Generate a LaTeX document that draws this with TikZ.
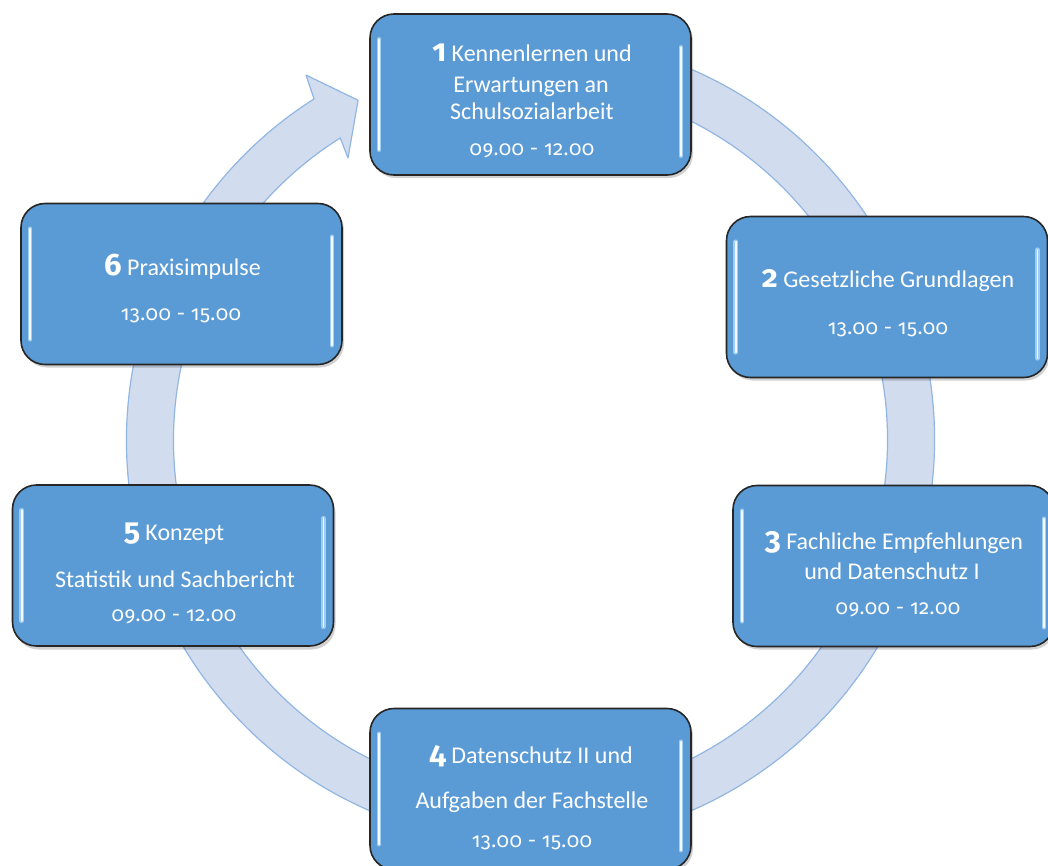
\documentclass[tikz,border=0pt]{standalone}
\usepackage{fontspec}
\setmainfont{Carlito}
\newfontfamily\timefont{Fira Sans}[Numbers=OldStyle,LetterSpace=2]
\newfontfamily\numfont{Fira Sans}[Numbers=OldStyle]
\definecolor{boxblue}{RGB}{91,155,213}
\definecolor{ringfill}{RGB}{209,220,238}
\definecolor{ringline}{RGB}{145,182,226}
\definecolor{glowblue}{RGB}{160,205,242}
\newcommand\bignum[1]{{\numfont\fontsize{31}{31}\selectfont\bfseries #1}}
\newcommand\tm[1]{{\timefont\fontsize{20.5}{26}\selectfont #1}}
\tikzset{
  stagebox/.style={draw=black!85, line width=1.6pt, rounded corners=24pt, fill=boxblue,
    minimum width=321pt, minimum height=161pt, inner sep=0pt},
  shadowbox/.style={fill=black, opacity=0.18, rounded corners=24pt,
    minimum width=321pt, minimum height=161pt, inner sep=0pt},
  txt/.style={text=white, font=\fontsize{24}{29}\selectfont, anchor=base, inner sep=0pt},
  glowline/.style={draw=glowblue, line width=4.5pt, line cap=round},
  glossline/.style={draw=white, line width=1.6pt, line cap=round, opacity=0.9},
  ring/.style={fill=ringfill, draw=ringline, line width=1.2pt, line join=round}
}
\begin{document}
\begin{tikzpicture}[x=1pt,y=1pt]
\useasboundingbox (0,0) rectangle (1048,-865);
\clip (0,0) rectangle (1048,-865);
% ring arrow
\begin{scope}[shift={(530.5,-440)}]
\draw[ring] (80:404) arc[start angle=80, end angle=-237.6, radius=404]
  -- (-238.4:428.5) -- (-243.1:381) -- (-237.1:336) -- (-237.8:357)
  arc[start angle=-237.8, end angle=80, radius=357] -- cycle;
\end{scope}
% shadows
\node[shadowbox] (s1) at (532.5,-97.5) {};
\node[shadowbox] (s2) at (889,-300) {};
\node[shadowbox] (s3) at (895.5,-569) {};
\node[shadowbox] (s4) at (532.5,-792) {};
\node[shadowbox] (s5) at (175,-569) {};
\node[shadowbox] (s6) at (183.5,-287) {};
% boxes
\node[stagebox] (b1) at (530.5,-94.5) {};
\node[stagebox] (b2) at (887,-297) {};
\node[stagebox] (b3) at (893.5,-566) {};
\node[stagebox] (b4) at (530.5,-789) {};
\node[stagebox] (b5) at (173,-565.5) {};
\node[stagebox] (b6) at (181.5,-284) {};
% gloss highlights
\foreach \b in {b1,b2,b3,b4,b5,b6}{
  \draw[glowline] ([shift={(10pt,-26pt)}]\b.north west) -- ([shift={(10pt,26pt)}]\b.south west);
  \draw[glowline] ([shift={(-11pt,-34pt)}]\b.north east) -- ([shift={(-11pt,20pt)}]\b.south east);
  \draw[glossline] ([shift={(10pt,-26pt)}]\b.north west) -- ([shift={(10pt,26pt)}]\b.south west);
  \draw[glossline] ([shift={(-11pt,-34pt)}]\b.north east) -- ([shift={(-11pt,20pt)}]\b.south east);
}
% texts
\node[txt] (t1a) at (532,-61) {\bignum{1} Kennenlernen und};
\node[txt] (t1b) at (531,-92) {Erwartungen an};
\node[txt] (t1c) at (532,-119) {Schulsozialarbeit};
\node[txt] (t1d) at (532,-155) {\tm{09.00 - 12.00}};
\node[txt] (t2a) at (888,-287) {\bignum{2} Gesetzliche Grundlagen};
\node[txt] (t2b) at (888,-334) {\tm{13.00 - 15.00}};
\node[txt] (t3a) at (894,-549) {\bignum{3} Fachliche Empfehlungen};
\node[txt] (t3b) at (892,-579) {und Datenschutz I};
\node[txt] (t3c) at (898,-614) {\tm{09.00 - 12.00}};
\node[txt] (t4a) at (531,-763) {\bignum{4} Datenschutz II und};
\node[txt] (t4b) at (532,-808) {Aufgaben der Fachstelle};
\node[txt] (t4c) at (532,-847) {\tm{13.00 - 15.00}};
\node[txt] (t5a) at (174,-540) {\bignum{5} Konzept};
\node[txt] (t5b) at (175,-587) {Statistik und Sachbericht};
\node[txt] (t5c) at (174,-621) {\tm{09.00 - 12.00}};
\node[txt] (t6a) at (182.5,-275) {\bignum{6} Praxisimpulse};
\node[txt] (t6b) at (181,-320) {\tm{13.00 - 15.00}};
\end{tikzpicture}
\end{document}
